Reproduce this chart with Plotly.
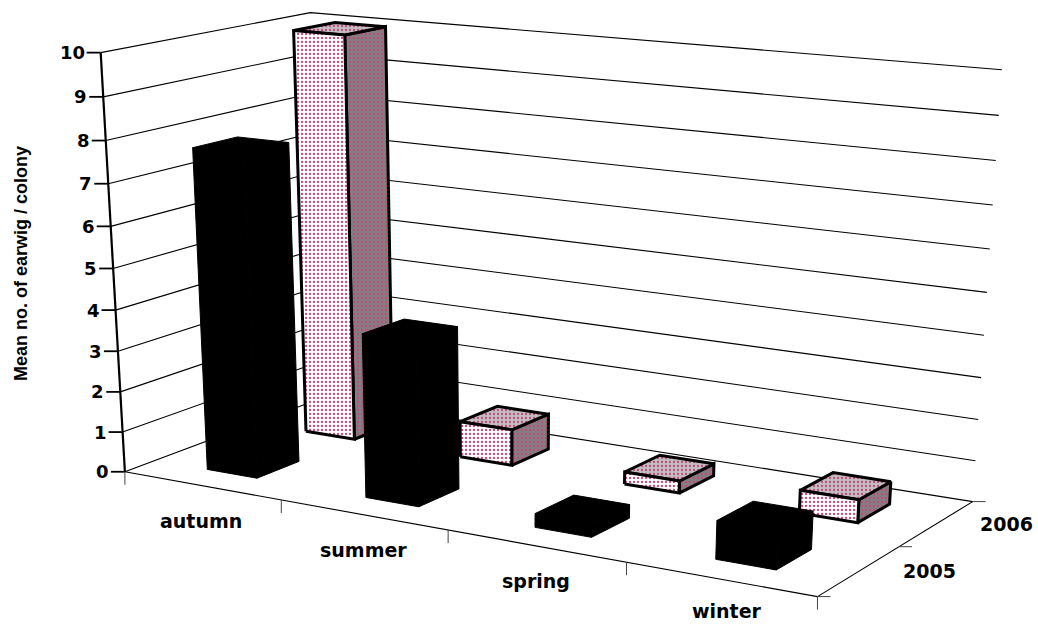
import numpy as np
import plotly.graph_objects as go

# Mean counts per colony, read per season and year
seasons = ["autumn", "summer", "spring", "winter"]
years = ["2005", "2006"]
earwig_2005 = [7.8, 3.95, 0.33, 0.9]
earwig_2006 = [10.0, 0.9, 0.3, 0.55]
value_ticks = list(range(0, 11))

# Perspective camera for the chart box: (season, year, value) -> page pixel
BOX_CORNERS = [
    ((0, 0, 0), (125, 472)),
    ((4, 0, 0), (817, 597)),
    ((4, 2, 0), (973, 501)),
    ((0, 0, 10), (101, 52)),
    ((0, 2, 10), (310, 13)),
    ((4, 2, 10), (1002, 70)),
]


def solve_camera(pairs):
    rows = []
    for (c, d, v), (px, py) in pairs:
        p = [c, d, v, 1]
        rows.append(p + [0, 0, 0, 0] + [-px * q for q in p])
        rows.append([0, 0, 0, 0] + p + [-py * q for q in p])
    return np.linalg.svd(np.array(rows, float))[2][-1].reshape(3, 4)


CAMERA = solve_camera(BOX_CORNERS)


def project(c, d, v):
    h = CAMERA @ np.array([c, d, v, 1.0])
    return float(h[0] / h[2]), float(h[1] / h[2])


fig = go.Figure()


def polyline(points, width=1.0, color="#000000"):
    xy = [project(*p) for p in points]
    fig.add_trace(go.Scatter(x=[q[0] for q in xy], y=[q[1] for q in xy], mode="lines",
                             line=dict(color=color, width=width), hoverinfo="skip"))


def offset_line(point, dx, dy, width=1.0, color="#000000"):
    x0, y0 = project(*point)
    fig.add_trace(go.Scatter(x=[x0, x0 + dx], y=[y0, y0 + dy], mode="lines",
                             line=dict(color=color, width=width), hoverinfo="skip"))


# Walls: value gridlines run along the side wall and then the back wall
for v in value_ticks:
    polyline([(0, 0, v), (0, 2, v), (4, 2, v)], width=1.1)

# Floor front and side edges
polyline([(0, 0, 0), (4, 0, 0)], width=1.1)
polyline([(4, 0, 0), (4, 2, 0)], width=1.1)

# Value axis with its ticks
polyline([(0, 0, 0), (0, 0, 10)], width=2.2)
for v in value_ticks:
    offset_line((0, 0, v), -14, 0, width=1.8)

# Season and year ticks
for i in range(len(seasons) + 1):
    offset_line((i, 0, 0), 0, 13, width=1.0, color="#444444")
for j in range(len(years) + 1):
    offset_line((4, j, 0), 13, 0, width=1.0, color="#444444")

BAR_WIDTH = 0.32
BAR_DEPTH = 0.42
DOT_COLOR = "#c8467f"


def face(corners, bg, name, value, solid):
    xy = [project(*p) for p in corners + corners[:1]]
    style = dict(fill="toself", mode="lines", name=name, text=f"{name}: {value}", hoverinfo="text",
                 x=[q[0] for q in xy], y=[q[1] for q in xy])
    if solid:
        fig.add_trace(go.Scatter(fillcolor="#000000", line=dict(color="#000000", width=1), **style))
    else:
        fig.add_trace(go.Scatter(fillcolor=bg, line=dict(color="#000000", width=3),
                                 fillpattern=dict(shape=".", fgcolor=DOT_COLOR, bgcolor=bg,
                                                  size=4, solidity=0.25, fillmode="replace"),
                                 **style))


def bar(i, j, value, solid):
    c0, c1 = i + 0.5 - BAR_WIDTH / 2, i + 0.5 + BAR_WIDTH / 2
    d0, d1 = j + 0.5 - BAR_DEPTH / 2, j + 0.5 + BAR_DEPTH / 2
    name = f"{seasons[i]} {years[j]}"
    face([(c1, d0, 0), (c1, d1, 0), (c1, d1, value), (c1, d0, value)], "#808080", name, value, solid)
    face([(c0, d0, value), (c1, d0, value), (c1, d1, value), (c0, d1, value)], "#c0c0c0", name, value, solid)
    face([(c0, d0, 0), (c1, d0, 0), (c1, d0, value), (c0, d0, value)], "#ffffff", name, value, solid)


# Far row first so the nearer black bars cover it
for i, value in enumerate(earwig_2006):
    bar(i, 1, value, solid=False)
for i, value in enumerate(earwig_2005):
    bar(i, 0, value, solid=True)

LABEL_FONT = dict(family="DejaVu Sans", size=18, color="#000000", weight="bold")
NAME_FONT = dict(family="DejaVu Sans", size=19, color="#000000", weight="bold")
annotations = []


def label(x, y, text, font=LABEL_FONT, xanchor="center", angle=0):
    annotations.append(dict(x=x, y=y, xref="x", yref="y", text=text, showarrow=False, font=font,
                            xanchor=xanchor, yanchor="middle", textangle=angle, borderpad=0, borderwidth=0))


for v in value_ticks:
    x, y = project(0, 0, v)
    label(x - 16, y, str(v), xanchor="right")

season_dx = [-1, 0, 0, 7]
season_dy = [35, 35, 35, 32]
for i, s in enumerate(seasons):
    x, y = project(i + 0.5, 0, 0)
    label(x + season_dx[i], y + season_dy[i], s, font=NAME_FONT)

for j, yr in enumerate(years):
    x, y = project(4, j + 0.5, 0)
    label(x + 70, y, yr, font=dict(LABEL_FONT, size=19))

label(21, 264, "Mean no. of earwig / colony",
      font=dict(family="Liberation Sans", size=18, color="#000000", weight="bold"), angle=-90)

fig.update_layout(
    width=1038, height=624, autosize=False,
    margin=dict(l=0, r=0, t=0, b=0),
    paper_bgcolor="#ffffff", plot_bgcolor="#ffffff",
    showlegend=False, annotations=annotations,
    xaxis=dict(range=[0, 1038], visible=False, fixedrange=True),
    yaxis=dict(range=[624, 0], visible=False, fixedrange=True),
)

fig.write_html("out.html", config=dict(displayModeBar=False))
